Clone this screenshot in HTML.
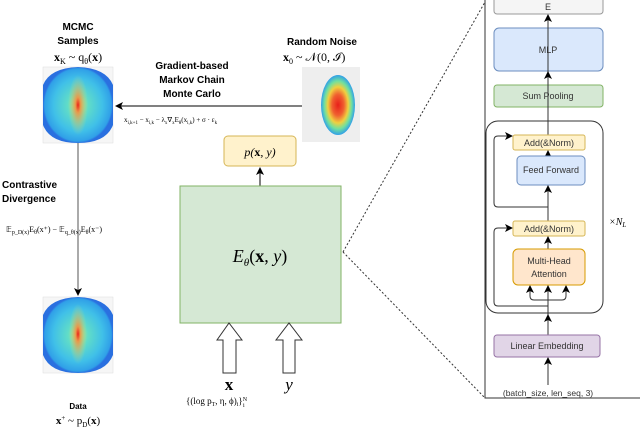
<!DOCTYPE html>
<html><head><meta charset="utf-8"><style>
body{margin:0;background:#fff;width:640px;height:428px;overflow:hidden}
svg{display:block;font-family:"Liberation Sans",sans-serif}
.m{font-family:"Liberation Serif",serif}
</style></head><body>
<svg width="640" height="428" viewBox="0 0 640 428" xmlns="http://www.w3.org/2000/svg">
<defs>
<marker id="a" markerWidth="8" markerHeight="8" refX="7" refY="4" orient="auto" markerUnits="userSpaceOnUse"><path d="M0,0 L8,4 L0,8 L2,4 z" fill="#000"/></marker>
<radialGradient id="h1" cx="50%" cy="50%" r="50%">
<stop offset="0" stop-color="#a8e890"/><stop offset="0.3" stop-color="#60dcc8"/><stop offset="0.7" stop-color="#40c0e8"/><stop offset="0.95" stop-color="#30a0e8"/><stop offset="1" stop-color="#2a70e0"/></radialGradient>
<radialGradient id="h2" cx="50%" cy="50%" r="50%">
<stop offset="0" stop-color="#e8201a"/><stop offset="0.35" stop-color="#f06030"/><stop offset="0.6" stop-color="#f0d040"/><stop offset="0.8" stop-color="#70e0a0"/><stop offset="1" stop-color="#30a0e8"/></radialGradient>
<radialGradient id="core" cx="50%" cy="50%" r="50%"><stop offset="0" stop-color="#e82018"/><stop offset="0.25" stop-color="#f59040" stop-opacity="0.9"/><stop offset="1" stop-color="#c0e880" stop-opacity="0"/></radialGradient>
</defs>
<!-- left labels -->
<text x="78" y="30" font-size="10" font-weight="bold" text-anchor="middle">MCMC</text>
<text x="78" y="44" font-size="10" font-weight="bold" text-anchor="middle">Samples</text>
<text x="78" y="61" font-size="12" class="m" text-anchor="middle"><tspan font-weight="bold">x</tspan><tspan font-size="8" dy="3">K</tspan><tspan dy="-3"> ~ q</tspan><tspan font-size="8" dy="3">θ</tspan><tspan dy="-3">(</tspan><tspan font-weight="bold">x</tspan>)</text>
<rect x="43" y="67" width="70" height="76" fill="#f6f6f6" stroke="#ddd" stroke-width="0.5"/>
<path d="M43,85 Q50,68 78,67 Q106,68 113,85 V125 Q106,143 78,143 Q50,143 43,125 Z" fill="url(#h1)"/>
<ellipse cx="78" cy="105" rx="10" ry="30" fill="url(#core)"/>
<rect x="43" y="297" width="70" height="76" fill="#f6f6f6" stroke="#ddd" stroke-width="0.5"/>
<path d="M43,315 Q50,298 78,297 Q106,298 113,315 V355 Q106,373 78,373 Q50,373 43,355 Z" fill="url(#h1)"/>
<ellipse cx="78" cy="334" rx="9" ry="30" fill="url(#core)"/>
<line x1="78" y1="143" x2="78" y2="295" stroke="#555" stroke-width="1" marker-end="url(#a)"/>
<text x="2" y="188" font-size="10" font-weight="bold">Contrastive</text>
<text x="2" y="202" font-size="10" font-weight="bold">Divergence</text>
<text x="6" y="232" font-size="8" class="m">𝔼<tspan font-size="6" dy="2">p_D(x)</tspan><tspan dy="-2">E</tspan><tspan font-size="6" dy="2">θ</tspan><tspan dy="-2">(x⁺) − 𝔼</tspan><tspan font-size="6" dy="2">q_θ(x)</tspan><tspan dy="-2">E</tspan><tspan font-size="6" dy="2">θ</tspan><tspan dy="-2">(x⁻)</tspan></text>
<text x="78" y="409" font-size="8" font-weight="bold" text-anchor="middle">Data</text>
<text x="78" y="424" font-size="11" class="m" text-anchor="middle"><tspan font-weight="bold">x</tspan><tspan font-size="7" dy="-4">+</tspan><tspan dy="4"> ~ p</tspan><tspan font-size="7" dy="3">D</tspan><tspan dy="-3">(</tspan><tspan font-weight="bold">x</tspan>)</text>
<!-- noise -->
<text x="322" y="45" font-size="10" font-weight="bold" text-anchor="middle">Random Noise</text>
<text x="283" y="61" font-size="12" class="m"><tspan font-weight="bold">x</tspan><tspan font-size="8" dy="3">0</tspan><tspan dy="-3"> ~ 𝒩(0, ℐ)</tspan></text>
<rect x="302" y="67" width="58" height="75" fill="#eeeeee"/>
<ellipse cx="338" cy="105" rx="17" ry="30" fill="url(#h2)"/>
<text x="192" y="69" font-size="10" font-weight="bold" text-anchor="middle">Gradient-based</text>
<text x="192" y="83" font-size="10" font-weight="bold" text-anchor="middle">Markov Chain</text>
<text x="192" y="97" font-size="10" font-weight="bold" text-anchor="middle">Monte Carlo</text>
<line x1="302" y1="106" x2="116" y2="106" stroke="#000" stroke-width="1" marker-end="url(#a)"/>
<text x="124" y="122" font-size="7" class="m">x<tspan font-size="5" dy="2">i,k+1</tspan><tspan dy="-2"> − x</tspan><tspan font-size="5" dy="2">i,k</tspan><tspan dy="-2"> − λ</tspan><tspan font-size="5" dy="2">x</tspan><tspan dy="-2">∇</tspan><tspan font-size="5" dy="2">x</tspan><tspan dy="-2">E</tspan><tspan font-size="5" dy="2">θ</tspan><tspan dy="-2">(x</tspan><tspan font-size="5" dy="2">i,k</tspan><tspan dy="-2">) + σ · ε</tspan><tspan font-size="5" dy="2">k</tspan></text>
<!-- p(x,y) -->
<rect x="224" y="136" width="72" height="30" rx="4" fill="#fff2cc" stroke="#d6b656"/>
<text x="260" y="156" font-size="12" class="m" font-style="italic" text-anchor="middle">p(<tspan font-weight="bold" font-style="normal">x</tspan>, y)</text>
<line x1="260" y1="186" x2="260" y2="168" stroke="#000" marker-end="url(#a)"/>
<rect x="180" y="186" width="161" height="137" fill="#d5e8d4" stroke="#82b366"/>
<text x="260" y="262" font-size="18" class="m" text-anchor="middle"><tspan font-style="italic">E</tspan><tspan font-size="11" font-style="italic" dy="4">θ</tspan><tspan dy="-4">(</tspan><tspan font-weight="bold">x</tspan>, <tspan font-style="italic">y</tspan>)</text>
<!-- hollow arrows -->
<path d="M223,373 V340 H217 L229,323 L242,340 H236 V373 Z" fill="#fff" stroke="#333"/>
<path d="M283,373 V340 H276 L289,323 L302,340 H295 V373 Z" fill="#fff" stroke="#333"/>
<text x="229" y="390" font-size="17" font-weight="bold" class="m" text-anchor="middle">x</text>
<text x="289" y="390" font-size="17" font-style="italic" class="m" text-anchor="middle">y</text>
<text x="186" y="404" font-size="9" class="m">{(log p<tspan font-size="6" dy="2">T</tspan><tspan dy="-2">, η, ϕ)</tspan><tspan font-size="6" dy="2">i</tspan><tspan dy="-2">}</tspan><tspan font-size="6" dy="-3">N</tspan><tspan font-size="6" dx="-4" dy="6">i</tspan></text>
<!-- dotted -->
<line x1="343" y1="252" x2="485" y2="2" stroke="#333" stroke-dasharray="2,2"/>
<line x1="343" y1="252" x2="485" y2="398" stroke="#333" stroke-dasharray="2,2"/>
<!-- right panel -->
<polyline points="485,0 485,398 640,398" fill="none" stroke="#333"/>
<rect x="494" y="-5" width="109" height="19" rx="3" fill="#f5f5f5" stroke="#999"/>
<text x="548" y="10" font-size="9" text-anchor="middle" fill="#333">E</text>
<rect x="494" y="28" width="109" height="43" rx="5" fill="#dae8fc" stroke="#6c8ebf"/>
<text x="548" y="53" font-size="9" text-anchor="middle" fill="#333">MLP</text>
<rect x="494" y="85" width="109" height="22" rx="3" fill="#d5e8d4" stroke="#82b366"/>
<text x="548" y="99" font-size="9" text-anchor="middle" fill="#333">Sum Pooling</text>
<rect x="486" y="121" width="117" height="192" rx="12" fill="none" stroke="#333"/>
<line x1="548" y1="335" x2="548" y2="16" stroke="#333"/>
<line x1="548" y1="28" x2="548" y2="15" stroke="#333" marker-end="url(#a)"/>
<line x1="548" y1="85" x2="548" y2="72" stroke="#333" marker-end="url(#a)"/>
<line x1="548" y1="156" x2="548" y2="151" stroke="#333" marker-end="url(#a)"/>
<line x1="548" y1="200" x2="548" y2="186" stroke="#333" marker-end="url(#a)"/>
<line x1="548" y1="249" x2="548" y2="237" stroke="#333" marker-end="url(#a)"/>
<line x1="548" y1="335" x2="548" y2="315" stroke="#333" marker-end="url(#a)"/>
<line x1="548" y1="385" x2="548" y2="358" stroke="#333" marker-end="url(#a)"/>
<path d="M548,207 H498 Q494,207 494,203 V140 Q494,136 498,136 H512" fill="none" stroke="#333" marker-end="url(#a)"/>
<path d="M548,306 H498 Q494,306 494,302 V232 Q494,228 498,228 H512" fill="none" stroke="#333" marker-end="url(#a)"/>
<path d="M530,287 V296 Q530,300 534,300 H562 Q566,300 566,296 V287" fill="none" stroke="#333"/>
<line x1="530" y1="292" x2="530" y2="286" stroke="#333" marker-end="url(#a)"/>
<line x1="566" y1="292" x2="566" y2="286" stroke="#333" marker-end="url(#a)"/>
<line x1="548" y1="292" x2="548" y2="286" stroke="#333" marker-end="url(#a)"/>
<rect x="513" y="135" width="72" height="15" rx="2" fill="#fff2cc" stroke="#d6b656"/>
<text x="549" y="146" font-size="9" text-anchor="middle" fill="#333">Add(&amp;Norm)</text>
<rect x="517" y="156" width="68" height="29" rx="4" fill="#dae8fc" stroke="#6c8ebf"/>
<text x="551" y="173" font-size="9" text-anchor="middle" fill="#333">Feed Forward</text>
<rect x="513" y="221" width="72" height="15" rx="2" fill="#fff2cc" stroke="#d6b656"/>
<text x="549" y="232" font-size="9" text-anchor="middle" fill="#333">Add(&amp;Norm)</text>
<rect x="513" y="249" width="72" height="36" rx="5" fill="#ffe6cc" stroke="#d79b00"/>
<text x="549" y="264" font-size="9" text-anchor="middle" fill="#333">Multi-Head</text>
<text x="549" y="277" font-size="9" text-anchor="middle" fill="#333">Attention</text>
<rect x="494" y="335" width="106" height="22" rx="3" fill="#e1d5e7" stroke="#9673a6"/>
<text x="547" y="349" font-size="9" text-anchor="middle" fill="#333">Linear Embedding</text>
<text x="548" y="396" font-size="8.5" text-anchor="middle" fill="#333">(batch_size, len_seq, 3)</text>
<text x="609" y="225" font-size="10" class="m" font-style="italic">×N<tspan font-size="7" dy="2">L</tspan></text>
</svg>
</body></html>
